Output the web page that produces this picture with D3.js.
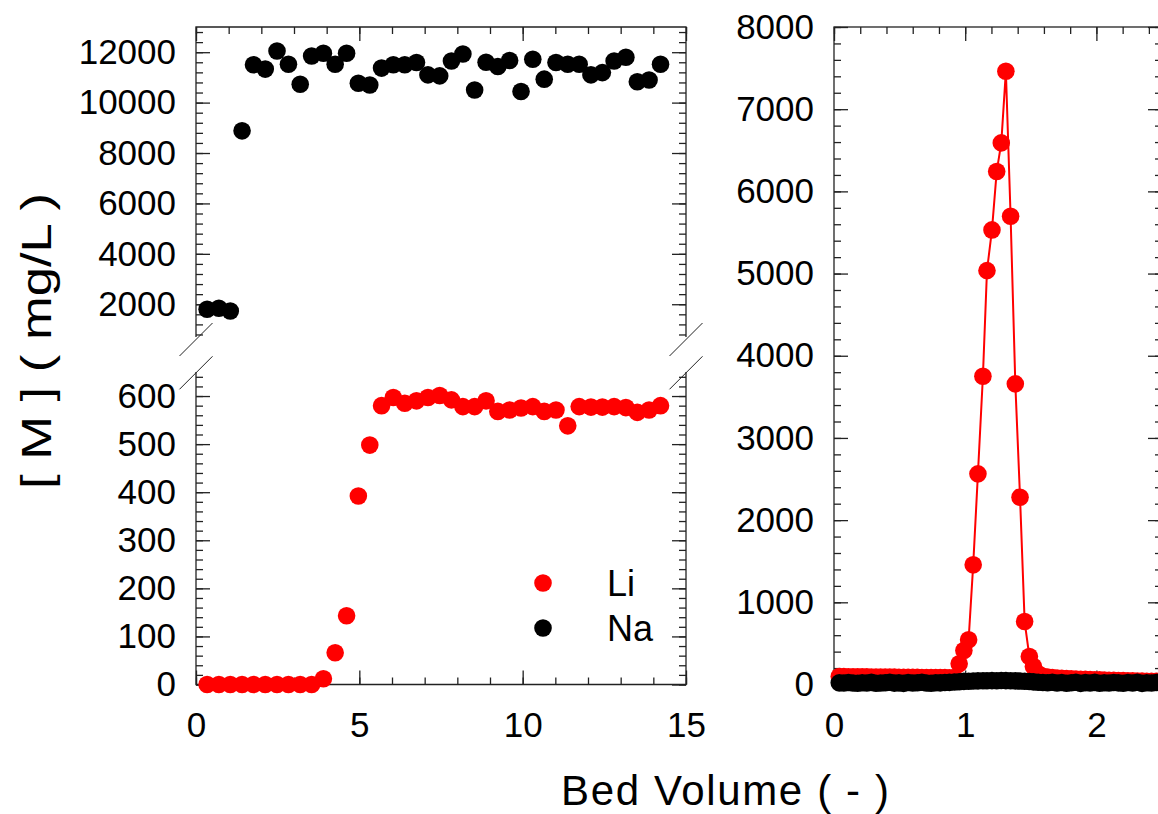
<!DOCTYPE html>
<html>
<head>
<meta charset="utf-8">
<script src="https://cdn.jsdelivr.net/npm/d3@7"></script>
<style>
  body { margin: 0; background: #fff; }
  svg text { font-family: "Liberation Sans", Arial, sans-serif; fill: #000; }
</style>
</head>
<body>
<div id="chart"></div>
<script>
// left panel: breakthrough (bed volume vs concentration)
const bvLeft = [0.34, 0.70, 1.05, 1.41, 1.76, 2.12, 2.48, 2.83, 3.19, 3.54, 3.90, 4.26, 4.61, 4.97, 5.32, 5.68, 6.04, 6.39, 6.75, 7.10,
                7.46, 7.82, 8.17, 8.53, 8.88, 9.24, 9.60, 9.95, 10.31, 10.66, 11.02, 11.38, 11.73, 12.09, 12.44, 12.80, 13.16, 13.51, 13.87, 14.22];
const naLeft = [1800, 1840, 1730, 8880, 11500, 11330, 12050, 11520, 10730, 11850, 11960, 11520, 11960, 10770, 10700, 11370, 11500, 11500, 11590, 11100,
                11060, 11650, 11930, 10500, 11600, 11430, 11670, 10440, 11720, 10930, 11590, 11520, 11520, 11100, 11190, 11650, 11800, 10830, 10900, 11520];
const liLeft = [0, 0, 0, 0, 0, 0, 0, 0, 0, 0, 12, 66, 143, 392, 498, 580, 597, 585, 590, 597,
                601, 592, 578, 578, 590, 568, 571, 575, 578, 568, 571, 538, 578, 577, 577, 578, 576, 566, 571, 580];

// right panel: elution
const bvRight = [0.040, 0.075, 0.110, 0.145, 0.180, 0.215, 0.250, 0.285, 0.320, 0.355, 0.390, 0.425, 0.460, 0.495, 0.530, 0.565, 0.600, 0.635, 0.670, 0.705,
                 0.740, 0.775, 0.810, 0.845, 0.880, 0.918, 0.954, 0.990, 1.026, 1.061, 1.097, 1.135, 1.166, 1.204, 1.240, 1.275, 1.310, 1.346, 1.382, 1.418,
                 1.453, 1.489, 1.520, 1.556, 1.592, 1.628, 1.664, 1.700, 1.736, 1.772, 1.808, 1.844, 1.880, 1.916, 1.952, 1.988, 2.024, 2.060, 2.096, 2.132,
                 2.168, 2.204, 2.240, 2.276, 2.312, 2.348, 2.384, 2.420, 2.456, 2.492];
const liRight = [98, 96, 95, 95, 94, 93, 93, 92, 92, 91, 90, 90, 90, 89, 88, 88, 88, 87, 86, 86,
                 85, 85, 84, 84, 83, 85, 252, 413, 544, 1456, 2563, 3750, 5036, 5531, 6241, 6590, 7461, 5697, 3658, 2279,
                 766, 341, 220, 130, 100, 90, 84, 80, 76, 72, 70, 67, 64, 62, 60, 58, 56, 54, 52, 50,
                 48, 47, 46, 44, 43, 42, 40, 39, 38, 37];
const naRight = [20, 18, 24, 19, 15, 22, 18, 26, 16, 19, 22, 28, 17, 20, 14, 25, 18, 21, 27, 19,
                 16, 22, 20, 24, 26, 30, 34, 38, 40, 42, 44, 45, 46, 47, 46, 48, 47, 45, 44, 42,
                 40, 36, 32, 28, 25, 22, 27, 18, 24, 16, 21, 28, 14, 23, 19, 26, 15, 22, 18, 25,
                 20, 16, 24, 19, 27, 14, 22, 18, 25, 20];

const topTicks = [2000, 4000, 6000, 8000, 10000, 12000];
const botTicks = [0, 100, 200, 300, 400, 500, 600];
const rightTicks = [0, 1000, 2000, 3000, 4000, 5000, 6000, 7000, 8000];
const xLeftTicks = [0, 5, 10, 15];
const xRightTicks = [0, 1, 2];
const legendNames = ["Li", "Na"];
const colors = {Li: "#ff0000", Na: "#000000"};

const W = 1158, H = 814, R = 8.8;
const svg = d3.select("#chart").append("svg").attr("width", W).attr("height", H);

// scales
const xL = d3.scaleLinear().domain([0, 15]).range([196, 686]);
const yTop = d3.scaleLinear().domain([700, 13000]).range([337, 27]);
const yBot = d3.scaleLinear().domain([0, 650]).range([684.5, 372]);
const xR = d3.scaleLinear().domain([0, 2.5]).range([834, 1162]);
const yR = d3.scaleLinear().domain([0, 8000]).range([684.5, 27]);

// inward ticks: minor + major, labels optional
function ticks(axisFn, scale, pos, major, minor, labels, pad) {
  const horiz = (axisFn === d3.axisTop || axisFn === d3.axisBottom);
  const tr = horiz ? `translate(0,${pos})` : `translate(${pos},0)`;
  svg.append("g").attr("transform", tr)
    .call(axisFn(scale).tickValues(minor).tickSize(-7).tickFormat(""))
    .call(g => g.select(".domain").remove())
    .selectAll("line").attr("stroke", "#222").attr("stroke-width", 1.3);
  const g = svg.append("g").attr("transform", tr)
    .call(axisFn(scale).tickValues(major).tickSize(-14).tickPadding(pad || 20)
      .tickFormat(labels ? d3.format("d") : ""));
  g.select(".domain").remove();
  g.selectAll("line").attr("stroke", "#222").attr("stroke-width", 1.3);
  g.attr("font-size", null).attr("font-family", null);
  g.selectAll("text").attr("font-size", 35).attr("fill", "#000");
}

// frames
const frame = svg.append("g").attr("fill", "none").attr("stroke", "#222").attr("stroke-width", 1.3);
frame.append("path").attr("d", `M${xL(0)},${yTop(700)}V${yTop(13000)}H${xL(15)}V${yTop(700)}`);
frame.append("path").attr("d", `M${xL(0)},${yBot(650)}V${yBot(0)}H${xL(15)}V${yBot(650)}`);
frame.append("rect").attr("x", xR(0)).attr("y", yR(8000))
  .attr("width", xR(2.5) - xR(0)).attr("height", yR(0) - yR(8000));

// break marks
[xL(0), xL(15)].forEach(ax => {
  [yTop(700) + 2.5, yBot(650) + 0.8].forEach(cy => {
    svg.append("line")
      .attr("x1", ax - 16.5).attr("y1", cy + 16.5)
      .attr("x2", ax + 16.5).attr("y2", cy - 16.5)
      .attr("stroke", "#222").attr("stroke-width", 1);
  });
});

// left panel ticks
ticks(d3.axisLeft, yTop, xL(0), topTicks, d3.range(800, 13000, 400), true);
ticks(d3.axisRight, yTop, xL(15), topTicks, d3.range(800, 13000, 400), false);
ticks(d3.axisTop, xL, yTop(13000), xLeftTicks, d3.range(0, 16, 1), false);
ticks(d3.axisLeft, yBot, xL(0), botTicks, d3.range(0, 650, 20), true);
ticks(d3.axisRight, yBot, xL(15), botTicks, d3.range(0, 650, 20), false);
ticks(d3.axisBottom, xL, yBot(0), xLeftTicks, d3.range(0, 16, 1), true, 27.5);

// right panel ticks
ticks(d3.axisLeft, yR, xR(0), rightTicks, d3.range(0, 8001, 200), true);
ticks(d3.axisRight, yR, xR(2.5), rightTicks, d3.range(0, 8001, 200), false);
ticks(d3.axisTop, xR, yR(8000), xRightTicks, d3.range(0, 2.51, 0.2), false);
ticks(d3.axisBottom, xR, yR(0), xRightTicks, d3.range(0, 2.51, 0.2), true, 27.5);

// left panel points
svg.append("g").selectAll("circle")
  .data(bvLeft.map((x, i) => [x, naLeft[i]]))
  .join("circle")
  .attr("cx", d => xL(d[0])).attr("cy", d => yTop(d[1])).attr("r", R)
  .attr("fill", colors.Na);
svg.append("g").selectAll("circle")
  .data(bvLeft.map((x, i) => [x, liLeft[i]]))
  .join("circle")
  .attr("cx", d => xL(d[0])).attr("cy", d => yBot(d[1])).attr("r", R)
  .attr("fill", colors.Li);

// right panel lines + points
const liPts = bvRight.map((x, i) => [x, liRight[i]]);
const naPts = bvRight.map((x, i) => [x, naRight[i]]);
const line = d3.line().x(d => xR(d[0])).y(d => yR(d[1]));
svg.append("path").datum(liPts).attr("d", line)
  .attr("fill", "none").attr("stroke", colors.Li).attr("stroke-width", 2);
svg.append("g").selectAll("circle").data(liPts).join("circle")
  .attr("cx", d => xR(d[0])).attr("cy", d => yR(d[1])).attr("r", R)
  .attr("fill", colors.Li);
svg.append("path").datum(naPts).attr("d", line)
  .attr("fill", "none").attr("stroke", colors.Na).attr("stroke-width", 1.5);
svg.append("g").selectAll("circle").data(naPts).join("circle")
  .attr("cx", d => xR(d[0])).attr("cy", d => yR(d[1])).attr("r", R)
  .attr("fill", colors.Na);

// legend
const leg = svg.append("g").selectAll("g").data(legendNames).join("g")
  .attr("transform", (d, i) => `translate(543,${583 + i * 45})`);
leg.append("circle").attr("r", R).attr("fill", d => colors[d]);
leg.append("text").attr("x", 64).attr("y", 13).attr("font-size", 36).text(d => d);

// axis titles
svg.append("text")
  .attr("x", 561).attr("y", 805)
  .attr("font-size", 42)
  .attr("textLength", 328).attr("lengthAdjust", "spacing")
  .text("Bed Volume ( - )");
svg.append("text")
  .attr("transform", "translate(51,341) rotate(-90)")
  .attr("text-anchor", "middle")
  .attr("font-size", 42)
  .attr("textLength", 296).attr("lengthAdjust", "spacingAndGlyphs")
  .text("[ M ] ( mg/L )");
</script>
</body>
</html>
